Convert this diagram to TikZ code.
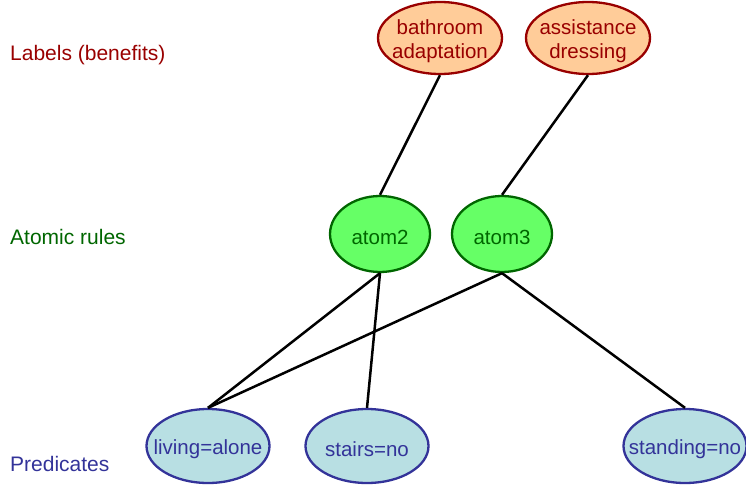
\documentclass[tikz,border=0pt]{standalone}
\usepackage{fontspec}
\setmainfont{Liberation Sans}
\usetikzlibrary{shapes.geometric}
\definecolor{lblred}{HTML}{990000}
\definecolor{lblfill}{HTML}{FFCC99}
\definecolor{atomgreen}{HTML}{006600}
\definecolor{atomfill}{HTML}{66FF66}
\definecolor{predblue}{HTML}{333399}
\definecolor{predfill}{HTML}{B8DFE3}
\newcommand{\zw}[1]{\makebox[0pt]{\raisebox{-3pt}[\height][\depth]{#1}}}
\tikzset{
  lbl/.style={ellipse, draw=lblred, fill=lblfill, text=lblred, line width=2.3pt,
    minimum width=124pt, minimum height=72pt, inner sep=0pt, align=center,
    font=\fontsize{20.5}{24}\selectfont},
  atm/.style={ellipse, draw=atomgreen, fill=atomfill, text=atomgreen, line width=2.3pt,
    minimum width=100pt, minimum height=76pt, inner sep=0pt,
    font=\fontsize{20.5}{24}\selectfont},
  prd/.style={ellipse, draw=predblue, fill=predfill, text=predblue, line width=2.3pt,
    minimum width=123pt, minimum height=74pt, inner sep=0pt,
    font=\fontsize{20.5}{24}\selectfont},
  edge/.style={draw=black, line width=2.5pt},
  side/.style={anchor=west, inner sep=0pt, font=\fontsize{21}{24}\selectfont}
}
\begin{document}
\begin{tikzpicture}[x=1pt, y=-1pt]
\useasboundingbox (0,0) rectangle (746,487);
\node[lbl] (bath) at (440,38) {\zw{bathroom}\\\zw{adaptation}};
\node[lbl] (assist) at (588,38) {\zw{assistance}\\\zw{dressing}};
\node[atm] (atom2) at (380,234) {\zw{atom2}};
\node[atm] (atom3) at (502,234) {\zw{atom3}};
\node[prd] (living) at (208,446) {\zw{living=alone}};
\node[prd] (stairs) at (367,446) {\zw{stairs=no}};
\node[prd] (standing) at (685,446) {\zw{standing=no}};
\draw[edge] (bath.south) -- (atom2.north);
\draw[edge] (assist.south) -- (atom3.north);
\draw[edge] (atom2.south) -- (living.north);
\draw[edge] (atom2.south) -- (stairs.north);
\draw[edge] (atom3.south) -- (living.north);
\draw[edge] (atom3.south) -- (standing.north);
\node[side, text=lblred] (t1) at (10,55) {Labels (benefits)};
\node[side, text=atomgreen] (t2) at (10,237) {Atomic rules};
\node[side, text=predblue] (t3) at (10,464) {Predicates};
\end{tikzpicture}
\end{document}
